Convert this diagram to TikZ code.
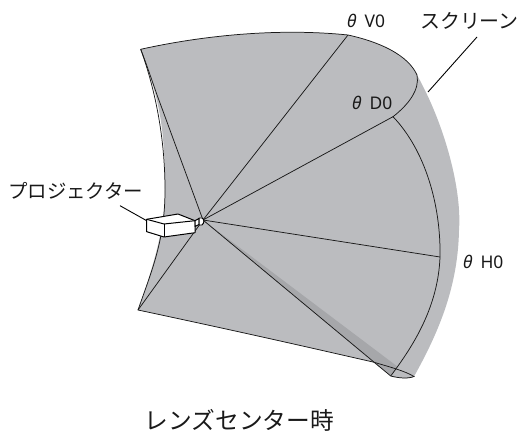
\documentclass[tikz,border=0pt]{standalone}
\usepackage{fontspec}
\setmainfont{Noto Sans}
\newfontfamily\cjk{Noto Sans CJK JP}
\definecolor{scr}{HTML}{BBBCBF}
\definecolor{scrd}{HTML}{A6A7AA}
\tikzset{
  edge/.style={draw=black!90,line width=0.75pt},
  lab/.style={inner sep=0pt,font=\fontsize{17.5}{18}\selectfont,text=black!90},
  jp/.style={inner sep=0pt,font=\cjk\fontsize{19.5}{20}\selectfont,text=black!90},
  leader/.style={draw=black,line width=0.9pt},
  body/.style={draw=black,line width=1pt,fill=white,line join=round}
}
\begin{document}
\begin{tikzpicture}[x=1bp,y=-1bp]
\useasboundingbox (0,0) rectangle (520,437);
\coordinate (apex) at (203,220);
\coordinate (tl) at (140.7,49.3);
\coordinate (v) at (348,35);
\coordinate (tip) at (417,75);
\coordinate (d) at (393,116.7);
\coordinate (h) at (440,257);
\coordinate (bl) at (138,310);
\coordinate (bb) at (390.7,376);
\coordinate (br) at (414,376.5);
\coordinate (scrA) at (428,92);
\coordinate (scrB) at (477,37);
\coordinate (prA) at (146.7,220.7);
\coordinate (prB) at (120,205.7);
% screen surface
\fill[scr] (tl) .. controls (205,35) and (280,28) .. (v)
  .. controls (380,42) and (408,55) .. (tip)
  .. controls (445,125) and (462,190) .. (459,230)
  .. controls (458,285) and (440,330) .. (br)
  .. controls (408,380) and (398,378) .. (bb)
  -- (373,362) .. controls (320,350) and (260,336) .. (bl)
  .. controls (152,270) and (165,230) .. (165,190)
  .. controls (165,130) and (160,100) .. (tl) -- cycle;
% darker wedge
\fill[scrd] (apex) -- (398,367) -- (bb) -- cycle;
% outlines
\draw[edge] (tl) .. controls (205,35) and (280,28) .. (v)
  .. controls (380,42) and (408,55) .. (tip)
  .. controls (420,90) and (408,105) .. (d)
  .. controls (425,150) and (441,205) .. (h)
  .. controls (438,310) and (410,350) .. (bb);
\draw[edge] (tl) .. controls (150,75) and (165,125) .. (165,190)
  .. controls (165,240) and (152,270) .. (bl)
  .. controls (260,336) and (320,350) .. (373,362)
  .. controls (390,367) and (405,371) .. (br)
  .. controls (408,379) and (398,378) .. (bb);
\draw[edge] (tl) .. controls (147,65) and (155,90) .. (160,103) -- (apex);
\draw[edge] (apex) -- (v);
\draw[edge] (apex) -- (d);
\draw[edge] (apex) -- (h);
\draw[edge] (apex) -- (bb);
\draw[edge] (apex) -- (bl);
% leaders
\draw[leader] (scrA) -- (scrB);
\draw[leader] (prA) -- (prB);
% projector
\draw[body] (146.7,219.3) -- (178,214) -- (195,220.7) -- (195,232.7) -- (164,237) -- (146.7,231.7) -- cycle;
\draw[body] (146.7,219.3) -- (164,224) -- (195,220.7);
\draw[body] (164,224) -- (164,237);
\draw[body] (195,220.7) -- (199,218.5) -- (199,224.5) -- (195,226.5) -- cycle;
\draw[body] (199,218) -- (202,218) .. controls (204.5,219) and (204.5,223) .. (202,225) -- (199,225) -- cycle;
% labels
\node[lab,anchor=west] (lv) at (347,21) {\textit{θ}\hspace{3.5pt} V0};
\node[lab,anchor=west] (ld) at (352,103) {\textit{θ}\hspace{3.5pt} D0};
\node[lab,anchor=west] (lh) at (463,262) {\textit{θ}\hspace{3.5pt} H0};
\node[jp,anchor=east,font=\cjk\fontsize{20}{20}\selectfont] (ls) at (519,21) {スクリーン};
\node[jp,anchor=west] (lp) at (8,191) {プロジェクター};
\node[jp,font=\cjk\fontsize{23.8}{24}\selectfont] (lc) at (239.5,420) {レンズセンター時};
\end{tikzpicture}
\end{document}
